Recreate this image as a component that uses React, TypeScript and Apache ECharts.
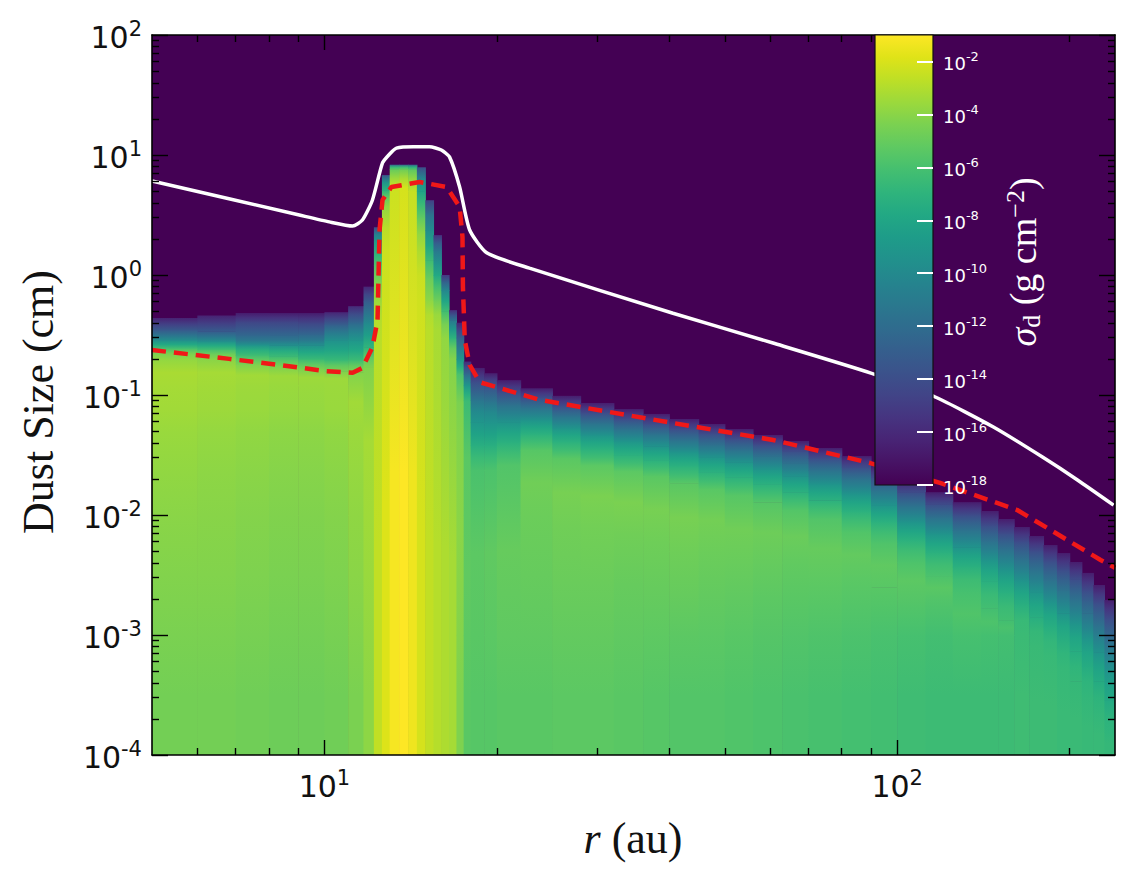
import React, { useEffect, useRef } from "react";
import * as echarts from "echarts";

// ---------- data ----------
// radial column edges (au)
const rEdges = [5, 6, 7, 8, 9, 10, 11, 11.7, 12.2, 12.6, 13, 13.5, 14, 14.5, 15, 15.5, 16, 16.5, 17, 17.5, 18, 19, 20, 22, 25, 28, 32, 36, 40, 45, 50, 56, 63, 70, 80, 90, 100, 112, 125, 140, 150, 160, 170, 180, 190, 200, 210, 220, 230, 240];

// for each radial column: stacked cells from 1e-4 cm upward, [upper dust size (cm), log10 sigma_d]
const columns: [number, number][][] = [
  [[1e-3, -4.6], [1e-2, -4.2], [0.05, -3.8], [0.12, -3.4], [0.2, -3.2], [0.246, -4.4], [0.287, -7.8], [0.348, -11.5], [0.438, -14.8]],
  [[1e-3, -4.6], [1e-2, -4.2], [0.05, -3.9], [0.12, -3.5], [0.2, -3.3], [0.24, -4.8], [0.28, -7.6], [0.34, -11.4], [0.46, -14.8]],
  [[1e-3, -4.7], [1e-2, -4.3], [0.05, -4.0], [0.12, -3.6], [0.18, -3.4], [0.215, -5.2], [0.261, -7.3], [0.316, -11.3], [0.406, -13.5], [0.482, -15.5]],
  [[1e-3, -4.8], [1e-2, -4.4], [0.05, -4.1], [0.12, -3.7], [0.175, -3.5], [0.21, -5.3], [0.26, -7.5], [0.316, -11.3], [0.406, -13.5], [0.482, -15.5]],
  [[1e-3, -4.8], [1e-2, -4.4], [0.05, -4.1], [0.12, -3.7], [0.165, -3.5], [0.2, -5.3], [0.26, -7.8], [0.32, -11.2], [0.4, -13.5], [0.482, -15.5]],
  [[1e-3, -4.7], [1e-2, -4.3], [0.05, -4.0], [0.12, -3.6], [0.158, -3.5], [0.196, -5.2], [0.287, -8], [0.383, -11], [0.49, -14.5]],
  [[1e-3, -4.4], [1e-2, -4.0], [0.05, -3.7], [0.155, -3.4], [0.196, -5.0], [0.287, -7.8], [0.4, -10.5], [0.55, -14]],
  [[1e-3, -3.9], [1e-2, -3.6], [0.17, -3.3], [0.25, -5.2], [0.4, -8.5], [0.6, -11.5], [0.8, -14.5]],
  [[0.3, -2.6], [0.7, -3.0], [1.2, -4.5], [1.9, -7], [2.5, -10.5]],
  [[1.6, -1.9], [3.8, -2.8], [5.1, -5], [6.8, -9]],
  [[5.4, -1.2], [7.6, -3.5], [8.3, -6.5]],
  [[5.4, -1.0], [7.6, -3.2], [8.3, -6.3]],
  [[5.0, -1.4], [7.6, -3.6], [8.3, -7]],
  [[0.62, -2.1], [1.6, -2.4], [3.0, -3.8], [5.0, -6.5], [7.9, -10]],
  [[0.35, -2.6], [0.62, -3.0], [1.33, -4.8], [2.37, -8], [4.2, -11.5]],
  [[0.35, -2.9], [0.62, -3.6], [1.0, -6], [1.6, -9.5], [2.15, -13]],
  [[0.3, -3.1], [0.5, -4.5], [0.75, -8], [1.0, -12.5]],
  [[0.2, -3.3], [0.3, -5], [0.42, -9], [0.51, -13.5]],
  [[1e-3, -4.3], [0.05, -4.0], [0.15, -4.4], [0.2, -7.5], [0.3, -11], [0.4, -14.5]],
  [[1e-3, -5.4], [0.01, -5.2], [0.09, -5.4], [0.12, -7.5], [0.15, -10.5], [0.19, -14]],
  [[1e-3, -5.5], [0.0237, -5.3], [0.0383, -6.5], [0.0595, -8.2], [0.0909, -10], [0.1285, -12.8], [0.168, -15.3]],
  [[1e-3, -5.5], [0.0237, -5.2], [0.0383, -6.5], [0.058, -8.2], [0.088, -10], [0.125, -12.8], [0.152, -15.3]],
  [[1e-3, -5.4], [0.0261, -5.0], [0.04, -6.3], [0.0595, -8], [0.0825, -10.5], [0.105, -12.8], [0.133, -15.3]],
  [[1e-3, -5.4], [0.01, -5.0], [0.0348, -4.7], [0.0475, -6.3], [0.0619, -8], [0.0788, -10.5], [0.0953, -12.8], [0.114, -15.3]],
  [[1e-3, -5.3], [0.008, -4.9], [0.0298, -4.5], [0.0408, -6.3], [0.0533, -8], [0.0671, -10.5], [0.0813, -12.8], [0.0984, -15.3]],
  [[1e-3, -5.3], [0.008, -4.9], [0.0261, -4.4], [0.0355, -6.3], [0.0464, -8], [0.0585, -10.5], [0.0708, -12.8], [0.0858, -15.3]],
  [[1e-3, -5.4], [0.007, -5.0], [0.0233, -4.4], [0.0316, -6.3], [0.0414, -8], [0.0521, -10.5], [0.0631, -12.8], [0.0764, -15.3]],
  [[1e-3, -5.5], [0.006, -5.0], [0.0211, -4.5], [0.0287, -6.3], [0.0375, -8], [0.0475, -10.5], [0.0573, -12.8], [0.0695, -15.3]],
  [[1e-3, -5.6], [0.005, -5.0], [0.0184, -4.5], [0.0256, -6.3], [0.0335, -8], [0.0422, -10.5], [0.0521, -12.8], [0.0631, -15.3]],
  [[1e-3, -5.6], [0.005, -5.1], [0.0165, -4.6], [0.0228, -6.3], [0.0304, -8], [0.0383, -10.5], [0.0475, -12.8], [0.0573, -15.3]],
  [[1e-3, -5.7], [0.004, -5.2], [0.0147, -4.7], [0.0207, -6.3], [0.0276, -8], [0.0348, -10.5], [0.043, -12.8], [0.0521, -15.3]],
  [[1e-3, -5.8], [0.004, -5.3], [0.0128, -4.8], [0.0181, -6.3], [0.0242, -8], [0.031, -10.5], [0.0383, -12.8], [0.0464, -15.3]],
  [[1e-3, -5.9], [0.004, -5.4], [0.011, -4.9], [0.0155, -6.3], [0.0211, -8], [0.0271, -10.5], [0.0341, -12.8], [0.0414, -15.3]],
  [[1e-3, -6.0], [0.003, -5.5], [0.0093, -5.0], [0.0133, -6.3], [0.0181, -8], [0.0237, -10.5], [0.0298, -12.8], [0.0362, -15.3]],
  [[1e-3, -6.1], [0.003, -5.6], [0.0073, -5.1], [0.0108, -6.3], [0.015, -8], [0.02, -10.5], [0.0251, -12.8], [0.031, -15.3]],
  [[1e-3, -6.2], [0.0025, -5.7], [0.00583, -5.2], [0.00875, -6.3], [0.0121, -8], [0.0162, -10.5], [0.0207, -12.8], [0.0256, -15.3]],
  [[1e-3, -6.3], [0.002, -5.8], [0.00405, -5.3], [0.00619, -6.3], [0.00875, -8], [0.0119, -10.5], [0.0155, -12.8], [0.0196, -15.3]],
  [[1e-3, -6.4], [0.002, -5.9], [0.0031, -5.4], [0.00484, -6.3], [0.00696, -8], [0.0095, -10.5], [0.0123, -12.8], [0.0155, -15.3]],
  [[1e-3, -6.4], [0.00228, -5.7], [0.0037, -6.4], [0.0054, -8], [0.0075, -10.5], [0.01, -12.8], [0.0128, -15.3]],
  [[1e-3, -6.4], [0.00167, -5.8], [0.0028, -6.5], [0.00422, -8], [0.006, -10.5], [0.00818, -12.8], [0.0108, -15.3]],
  [[1e-3, -6.4], [0.00133, -5.9], [0.00226, -6.5], [0.00348, -8], [0.00511, -10.5], [0.007, -12.8], [0.00926, -15.3]],
  [[1e-3, -6.3], [0.00178, -6.6], [0.00282, -8], [0.00422, -10.5], [0.00596, -12.8], [0.00794, -15.3]],
  [[8.11e-4, -6.4], [1.41e-3, -6.7], [2.28e-3, -8], [3.48e-3, -10.5], [5.01e-3, -12.8], [6.68e-3, -15.3]],
  [[6.81e-4, -6.4], [1.17e-3, -6.8], [1.87e-3, -8], [2.85e-3, -10.5], [4.14e-3, -12.8], [5.62e-3, -15.3]],
  [[5.27e-4, -6.5], [9.26e-4, -6.85], [1.52e-3, -8], [2.37e-3, -10.5], [3.48e-3, -12.8], [4.82e-3, -15.3]],
  [[4.12e-4, -6.5], [7.32e-4, -6.9], [1.24e-3, -8], [1.96e-3, -10.5], [2.91e-3, -12.8], [4.06e-3, -15.3]],
  [[3.02e-4, -6.6], [5.47e-4, -6.95], [9.45e-4, -8.1], [1.52e-3, -10.5], [2.33e-3, -12.8], [3.29e-3, -15.3]],
  [[2.22e-4, -6.6], [4.12e-4, -7.0], [7.18e-4, -8.2], [1.19e-3, -10.5], [1.85e-3, -12.8], [2.61e-3, -15.3]],
  [[1.54e-4, -6.7], [2.87e-4, -7.1], [5.11e-4, -8.3], [8.59e-4, -10.5], [1.36e-3, -12.8], [1.96e-3, -15.3]],
];
const sizeMin = 1e-4;

// white solid curve
const whiteR = [5.0, 9.04, 10.2, 11.2, 11.65, 12.13, 12.63, 13.0, 13.36, 14.3, 15.26, 16.0, 16.54, 17.22, 17.93, 19.2, 22.8, 40.6, 60.7, 89.7, 116.5, 147.2, 179.3, 206.4, 238.6];
const whiteS = [6.07, 3.16, 2.77, 2.56, 2.87, 4.22, 8.58, 10.2, 11.4, 11.7, 11.7, 11.0, 9.6, 5.41, 2.37, 1.53, 1.14, 0.48, 0.271, 0.153, 0.0962, 0.0541, 0.0304, 0.0196, 0.0121];
// red dashed curve
const redR = [5.0, 6.82, 8.34, 10.08, 11.2, 11.65, 12.13, 12.38, 12.48, 12.63, 13.09, 14.66, 16.34, 17.22, 17.42, 17.45, 17.58, 17.93, 18.66, 23.8, 40.6, 60.7, 89.7, 118.8, 162, 226.5, 240];
const redS = [0.237, 0.2, 0.178, 0.158, 0.153, 0.168, 0.251, 0.42, 2.37, 4.22, 5.41, 5.96, 5.41, 3.69, 2.07, 0.794, 0.287, 0.178, 0.128, 0.0909, 0.0584, 0.0422, 0.0271, 0.0185, 0.011, 0.00422, 0.00363];

// axes
const xRange = [5, 240];
const yRange = [1e-4, 100];
const xMajor = [10, 100];
const xMinor = [6, 7, 8, 9, 20, 30, 40, 50, 60, 70, 80, 90, 200];
const yMajor = [1e-4, 1e-3, 1e-2, 1e-1, 1, 10, 100];
const yMinorMult = [2, 3, 4, 5, 6, 7, 8, 9];
const cbRange = [-18, -1];
const cbTicks = [-18, -16, -14, -12, -10, -8, -6, -4, -2];

const viridis = ["#440154", "#471365", "#482475", "#463480", "#414487", "#3b528b", "#355f8d", "#2f6c8e", "#2a788e", "#25848e", "#21918c", "#1e9c89", "#22a884", "#2fb47c", "#44bf70", "#5ec962", "#7ad151", "#9bd93c", "#bddf26", "#dfe318", "#fde725"];

const L = Math.log10;

export default function App() {
  const ref = useRef<HTMLDivElement>(null);
  useEffect(() => {
    if (!ref.current) return;
    const chart = echarts.init(ref.current, null, { renderer: "svg" });

    const colorOf = (v: number) => {
      const t = Math.min(1, Math.max(0, (v - cbRange[0]) / (cbRange[1] - cbRange[0])));
      return echarts.color.lerp(t, viridis) as string;
    };

    // cells: [x0, x1, y0, y1, value, valueBelow, valueAbove]
    const cells: number[][] = [];
    columns.forEach((segs, i) => {
      let lo = sizeMin;
      segs.forEach(([top, v], j) => {
        const below = j > 0 ? segs[j - 1][1] : v;
        const above = j < segs.length - 1 ? segs[j + 1][1] : cbRange[0];
        cells.push([L(rEdges[i]), L(rEdges[i + 1]), L(lo), L(top), v, below, above]);
        lo = top;
      });
    });

    const yMinor: number[] = [];
    for (let n = -4; n <= 1; n++) yMinorMult.forEach((k) => yMinor.push(L(k * Math.pow(10, n))));

    const sans = "DejaVu Sans";
    const labelRich = {
      b: { fontSize: 30, fontFamily: sans, color: "#111", lineHeight: 34, verticalAlign: "bottom" },
      s: { fontSize: 21, fontFamily: sans, color: "#111", lineHeight: 20, verticalAlign: "top" },
    };
    const fmt = (v: number) => `{b|10}{s|${Math.round(v)}}`;

    const xBase = { type: "value", gridIndex: 0, min: L(xRange[0]), max: L(xRange[1]), splitLine: { show: false }, z: 10 };
    const yBase = { type: "value", gridIndex: 0, min: L(yRange[0]), max: L(yRange[1]), splitLine: { show: false }, z: 10 };
    const line = { show: true, onZero: false, lineStyle: { color: "#000", width: 1.6 } };
    const noLine = { show: false, onZero: false };
    const tick = (vals: number[], len: number) => ({ show: true, inside: true, length: len, customValues: vals, lineStyle: { color: "#000", width: 1.4 } });
    const noLabel = { show: false };

    const xMaj = xMajor.map(L);
    const xMin = xMinor.map(L);
    const yMaj = yMajor.map(L);

    const option: any = {
      animation: false,
      backgroundColor: "#fff",
      grid: [
        { left: 152, top: 35, width: 963, height: 720, show: true, backgroundColor: "#440154", borderWidth: 0 },
        { left: 875, top: 35, width: 58, height: 450 },
      ],
      xAxis: [
        { ...xBase, position: "bottom", axisLine: line, axisTick: tick(xMaj, 15),
          axisLabel: { show: true, customValues: xMaj, margin: 12, formatter: fmt, rich: labelRich } },
        { ...xBase, position: "bottom", axisLine: noLine, axisTick: tick(xMin, 7), axisLabel: noLabel },
        { ...xBase, position: "top", axisLine: line, axisTick: tick(xMaj, 15), axisLabel: noLabel },
        { ...xBase, position: "top", axisLine: noLine, axisTick: tick(xMin, 7), axisLabel: noLabel },
        { type: "value", gridIndex: 1, min: 0, max: 1, show: false },
      ],
      yAxis: [
        { ...yBase, position: "left", axisLine: line, axisTick: tick(yMaj, 16),
          axisLabel: { show: true, customValues: yMaj, margin: 10, formatter: fmt, rich: labelRich } },
        { ...yBase, position: "left", axisLine: noLine, axisTick: tick(yMinor, 7), axisLabel: noLabel },
        { ...yBase, position: "right", axisLine: line, axisTick: tick(yMaj, 16), axisLabel: noLabel },
        { ...yBase, position: "right", axisLine: noLine, axisTick: tick(yMinor, 7), axisLabel: noLabel },
        {
          type: "value", gridIndex: 1, position: "right", min: cbRange[0], max: cbRange[1], z: 120,
          splitLine: { show: false }, axisLine: { show: false, onZero: false },
          axisTick: { show: true, inside: true, length: 16, customValues: cbTicks, lineStyle: { color: "#fff", width: 2 } },
          axisLabel: {
            show: true, customValues: cbTicks, margin: 10,
            formatter: (v: number) => `{b|10}{s|${Math.round(v)}}`,
            rich: {
              b: { fontSize: 18, fontFamily: sans, color: "#fff", lineHeight: 22, verticalAlign: "bottom" },
              s: { fontSize: 13, fontFamily: sans, color: "#fff", lineHeight: 13, verticalAlign: "top" },
            },
          },
        },
      ],
      series: [
        {
          type: "custom", xAxisIndex: 0, yAxisIndex: 0, data: cells, clip: true, z: 1,
          encode: { x: [0, 1], y: [2, 3] },
          renderItem: (params: any, api: any) => {
            const a = api.coord([api.value(0), api.value(2)]);
            const b = api.coord([api.value(1), api.value(3)]);
            const v = api.value(4);
            const vb = api.value(5);
            const va = api.value(6);
            return {
              type: "rect",
              shape: { x: a[0], y: b[1], width: b[0] - a[0] + 0.6, height: a[1] - b[1] + 0.6 },
              style: {
                fill: new echarts.graphic.LinearGradient(0, 1, 0, 0, [
                  { offset: 0, color: colorOf((v + vb) / 2) },
                  { offset: 0.5, color: colorOf(v) },
                  { offset: 1, color: colorOf((v + va) / 2) },
                ]),
              },
            };
          },
        },
        {
          type: "line", xAxisIndex: 0, yAxisIndex: 0, z: 5, symbol: "none", smooth: 0.2,
          data: whiteR.map((r, i) => [L(r), L(whiteS[i])]),
          lineStyle: { color: "#ffffff", width: 3.5 },
        },
        {
          type: "line", xAxisIndex: 0, yAxisIndex: 0, z: 6, symbol: "none",
          data: redR.map((r, i) => [L(r), L(redS[i])]),
          lineStyle: { color: "#f01818", width: 4.5, type: [14, 8] },
        },
      ],
      graphic: [
        {
          type: "rect", z: 100, shape: { x: 875, y: 35, width: 58, height: 450 },
          style: {
            fill: { type: "linear", x: 0, y: 1, x2: 0, y2: 0, colorStops: viridis.map((c, i) => ({ offset: i / (viridis.length - 1), color: c })) },
            stroke: "#111", lineWidth: 1.2,
          },
        },
        {
          type: "text", z: 100, x: 1023, y: 262, rotation: Math.PI / 2,
          style: {
            text: "{i|σ}{sub|d}{n| (g cm}{sup|−2}{n|)}",
            fill: "#fff", align: "center", verticalAlign: "middle",
            rich: {
              i: { fontFamily: "Liberation Serif", fontStyle: "italic", fontSize: 38, fill: "#fff", lineHeight: 42 },
              n: { fontFamily: "Liberation Serif", fontSize: 38, fill: "#fff", lineHeight: 42 },
              sub: { fontFamily: "Liberation Serif", fontSize: 26, fill: "#fff", lineHeight: 26, verticalAlign: "bottom" },
              sup: { fontFamily: "Liberation Serif", fontSize: 26, fill: "#fff", lineHeight: 26, verticalAlign: "top" },
            },
          },
        },
        {
          type: "text", z: 100, x: 38, y: 402, rotation: Math.PI / 2,
          style: { text: "Dust Size (cm)", fontFamily: "Liberation Serif", fontSize: 44, fill: "#111", align: "center", verticalAlign: "middle" },
        },
        {
          type: "text", z: 100, x: 633, y: 838,
          style: {
            text: "{i|r} (au)", fontFamily: "Liberation Serif", fontSize: 44, fill: "#111", align: "center", verticalAlign: "middle",
            rich: { i: { fontFamily: "Liberation Serif", fontStyle: "italic", fontSize: 44, fill: "#111" } },
          },
        },
      ],
    };
    chart.setOption(option);
    return () => chart.dispose();
  }, []);
  return <div ref={ref} style={{ position: "fixed", left: 0, top: 0, width: 1127, height: 879 }} />;
}
